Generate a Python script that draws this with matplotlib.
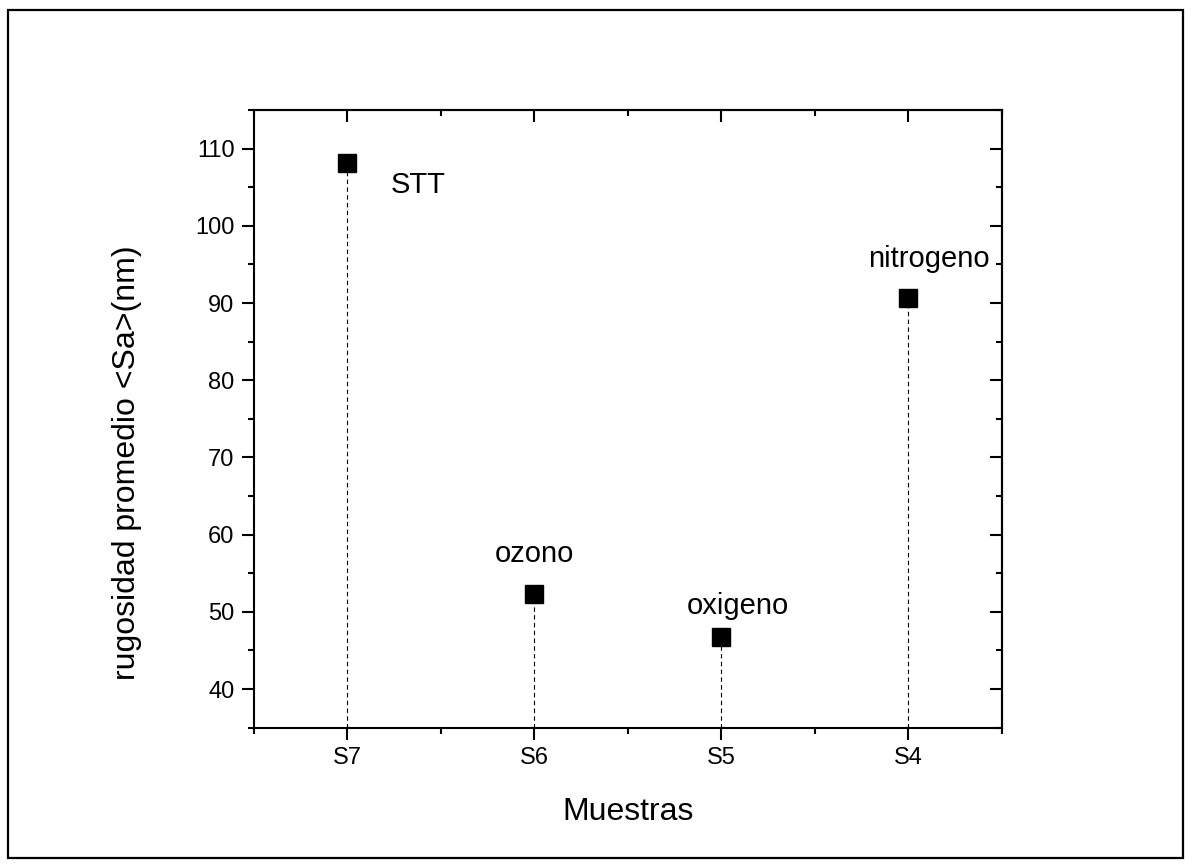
import matplotlib.pyplot as plt
from matplotlib.patches import Rectangle
from matplotlib.ticker import MultipleLocator

plt.rcParams['font.family'] = ['Liberation Sans', 'DejaVu Sans']

# rugosidad promedio por muestra
muestras = ['S7', 'S6', 'S5', 'S4']
sa_nm = [108.2, 52.3, 46.7, 90.6]
tratamientos = ['STT', 'ozono', 'oxigeno', 'nitrogeno']
# donde va cada etiqueta (x, y en datos)
pos_etiqueta = [(1.38, 104.2), (2.0, 56.5), (3.09, 49.7), (4.11, 94.7)]

pos_x = list(range(1, len(muestras) + 1))

fig = plt.figure(figsize=(11.92, 8.67), dpi=100)
fig.patches.append(Rectangle((8 / 1192, 9 / 867), 1175 / 1192, 848 / 867,
                             transform=fig.transFigure, fill=False,
                             edgecolor='black', linewidth=1.6))

ax = fig.add_axes([0.2131, 0.1607, 0.6272, 0.7124])
ax.set_xlim(0.5, 4.5)
ax.set_ylim(35, 115)

# lineas punteadas hasta el eje
ax.vlines(pos_x, 35, sa_nm, colors='black', linestyles=(0, (4, 3)),
          linewidth=0.8, zorder=1)
ax.plot(pos_x, sa_nm, 's', color='black', markersize=12.7, linestyle='none',
        zorder=3)

for txt, (tx, ty) in zip(tratamientos, pos_etiqueta):
    ax.text(tx, ty, txt, fontsize=21, ha='center', va='baseline')

ax.set_xticks(pos_x)
ax.set_xticklabels(muestras)
ax.set_xticks([0.5, 1.5, 2.5, 3.5, 4.5], minor=True)
ax.yaxis.set_minor_locator(MultipleLocator(5))
ax.set_yticks(range(40, 111, 10))
ax.set_ylim(35, 115)

ax.tick_params(which='major', direction='out', length=8.6, width=1.5,
               labelsize=17, pad=5.5)
ax.tick_params(which='minor', direction='out', length=4.3, width=1.5)
for s in ax.spines.values():
    s.set_linewidth(1.5)

# ticks hacia adentro arriba y a la derecha
top = ax.secondary_xaxis('top')
top.set_xticks(pos_x)
top.set_xticks([0.5, 1.5, 2.5, 3.5, 4.5], minor=True)
top.tick_params(which='major', direction='in', length=8.6, width=1.5,
                labeltop=False)
top.tick_params(which='minor', direction='in', length=4.3, width=1.5)
top.spines['top'].set_linewidth(1.5)

der = ax.secondary_yaxis('right')
der.set_yticks(range(40, 111, 10))
der.yaxis.set_minor_locator(MultipleLocator(5))
der.tick_params(which='major', direction='in', length=8.6, width=1.5,
                labelright=False)
der.tick_params(which='minor', direction='in', length=4.3, width=1.5)
der.spines['right'].set_linewidth(1.5)

ax.set_xlabel('Muestras', fontsize=23)
ax.xaxis.set_label_coords(0.5, -0.113)
ax.set_ylabel('rugosidad promedio <Sa>(nm)', fontsize=23, va='center')
ax.yaxis.set_label_coords(-0.17, 0.429)

fig.savefig('out.png', dpi=100)
